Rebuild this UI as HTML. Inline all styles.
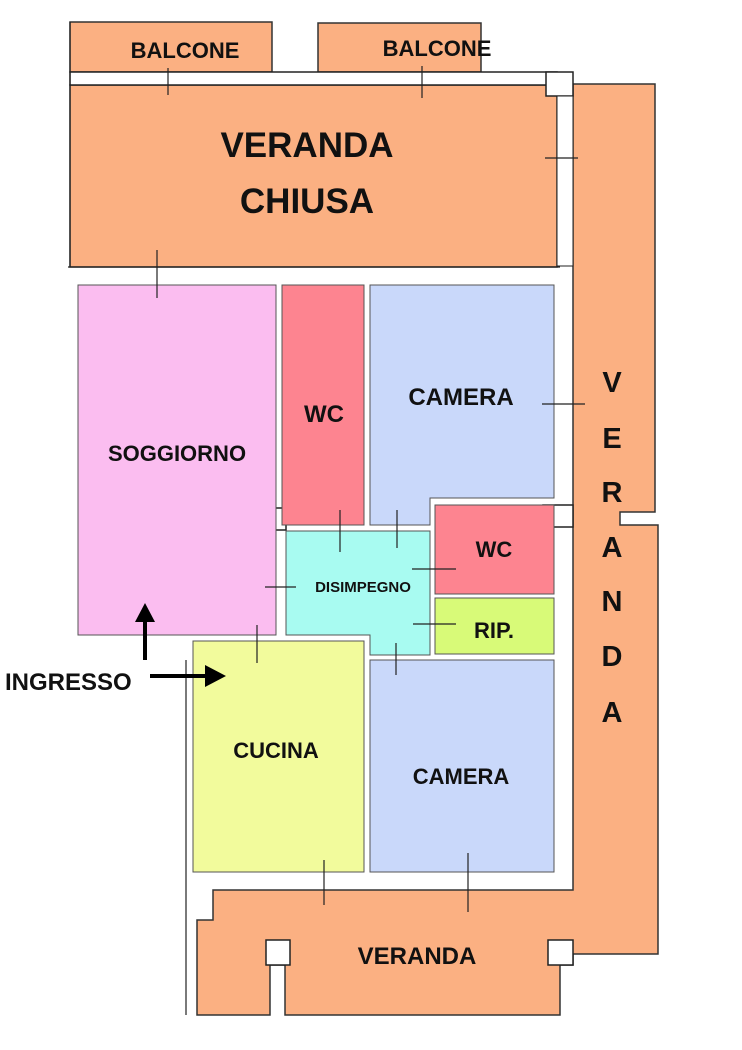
<!DOCTYPE html>
<html><head><style>body{margin:0;background:#fff}svg{display:block}text{font-family:"Liberation Sans",sans-serif;font-weight:bold;fill:#111}</style></head><body>
<svg width="742" height="1050" viewBox="0 0 742 1050">
<g stroke="#333" stroke-width="1.5">
<rect x="70" y="22" width="202" height="50" fill="#FBB082"/>
<rect x="318" y="23" width="163" height="49" fill="#FBB082"/>
<rect x="70" y="85" width="487" height="182" fill="#FBB082"/>
<polygon points="573,84 655,84 655,512 620,512 620,525 658,525 658,954 573,954 573,965 560,965 560,1015 285,1015 285,965 270,965 270,1015 197,1015 197,920 213,920 213,890 573,890" fill="#FBB082"/>
</g>
<g stroke="#222" stroke-width="1.5" fill="#fff">
<rect x="70" y="72" width="487" height="13"/>
<rect x="546" y="72" width="27" height="24"/>
<rect x="266" y="940" width="24" height="25"/>
<rect x="548" y="940" width="25" height="25"/>
<rect x="264" y="508" width="22" height="22"/>
<rect x="543" y="505" width="30" height="22"/>
</g>
<rect x="557" y="96" width="16" height="170" fill="#fff" stroke="#222"/>
<g stroke="#555" stroke-width="1">
<rect x="78" y="285" width="198" height="350" fill="#FBBDF0"/>
<rect x="282" y="285" width="82" height="240" fill="#FD8490"/>
<polygon points="370,285 554,285 554,498 430,498 430,525 370,525" fill="#C9D8FA"/>
<rect x="435" y="505" width="119" height="89" fill="#FD8490"/>
<rect x="435" y="598" width="119" height="56" fill="#D8FA78"/>
<polygon points="286,531 430,531 430,655 370,655 370,635 286,635" fill="#A8FBF1"/>
<rect x="193" y="641" width="171" height="231" fill="#F2FB9C"/>
<rect x="370" y="660" width="184" height="212" fill="#C9D8FA"/>
</g>
<g stroke="#222" stroke-width="1.2">
<line x1="90" y1="75" x2="90" y2="0" stroke="none"/>
<line x1="168" y1="68" x2="168" y2="95"/><line x1="422" y1="66" x2="422" y2="98"/>
<line x1="545" y1="158" x2="578" y2="158"/>
<line x1="157" y1="250" x2="157" y2="298"/>
<line x1="340" y1="510" x2="340" y2="552"/><line x1="397" y1="510" x2="397" y2="548"/>
<line x1="265" y1="587" x2="296" y2="587"/>
<line x1="412" y1="569" x2="456" y2="569"/><line x1="413" y1="624" x2="456" y2="624"/>
<line x1="396" y1="643" x2="396" y2="675"/>
<line x1="257" y1="625" x2="257" y2="663"/>
<line x1="542" y1="404" x2="585" y2="404"/>
<line x1="324" y1="860" x2="324" y2="905"/><line x1="468" y1="853" x2="468" y2="912"/>
<line x1="70" y1="22" x2="70" y2="267"/><line x1="68" y1="267" x2="560" y2="267"/>
<line x1="186" y1="660" x2="186" y2="1015"/>
</g>
<text x="185" y="58" font-size="22" text-anchor="middle">BALCONE</text>
<text x="437" y="56" font-size="22" text-anchor="middle">BALCONE</text>
<text x="307" y="157" font-size="35" text-anchor="middle">VERANDA</text>
<text x="307" y="213" font-size="35" text-anchor="middle">CHIUSA</text>
<text x="177" y="461" font-size="22" text-anchor="middle">SOGGIORNO</text>
<text x="324" y="422" font-size="24" text-anchor="middle">WC</text>
<text x="461" y="405" font-size="24" text-anchor="middle">CAMERA</text>
<text x="494" y="557" font-size="22" text-anchor="middle">WC</text>
<text x="494" y="638" font-size="22" text-anchor="middle">RIP.</text>
<text x="363" y="592" font-size="15" text-anchor="middle">DISIMPEGNO</text>
<text x="276" y="758" font-size="22" text-anchor="middle">CUCINA</text>
<text x="461" y="784" font-size="22" text-anchor="middle">CAMERA</text>
<text x="417" y="964" font-size="24" text-anchor="middle">VERANDA</text>
<g font-size="29" text-anchor="middle">
<text x="612" y="392">V</text><text x="612" y="448">E</text><text x="612" y="502">R</text><text x="612" y="557">A</text><text x="612" y="611">N</text><text x="612" y="666">D</text><text x="612" y="722">A</text>
</g>
<text x="5" y="690" font-size="24" fill="#111">INGRESSO</text>
<line x1="145" y1="660" x2="145" y2="620" stroke="#000" stroke-width="4"/>
<polygon points="135,622 155,622 145,603" fill="#000"/>
<line x1="150" y1="676" x2="210" y2="676" stroke="#000" stroke-width="4"/>
<polygon points="205,665 205,687 226,676" fill="#000"/>
</svg>
</body></html>
